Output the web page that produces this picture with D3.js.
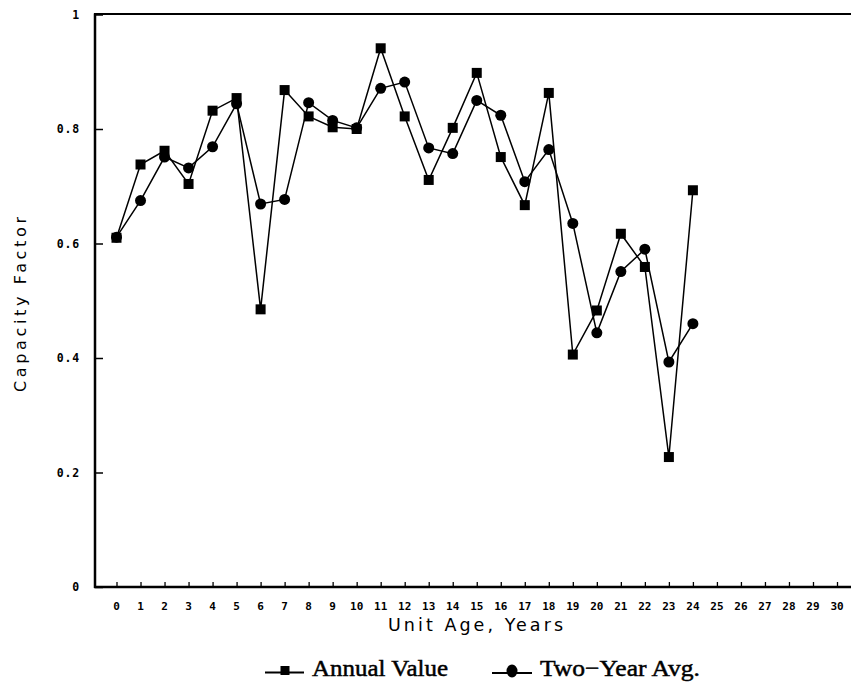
<!DOCTYPE html>
<html><head><meta charset="utf-8">
<script src="https://cdn.jsdelivr.net/npm/d3@7"></script>
<style>html,body{margin:0;padding:0;background:#fff;}svg{display:block;}</style>
</head><body>
<script>
const years = [0,1,2,3,4,5,6,7,8,9,10,11,12,13,14,15,16,17,18,19,20,21,22,23,24];
const annualValue = [0.61,0.738,0.762,0.704,0.832,0.854,0.485,0.868,0.822,0.803,0.80,0.941,0.822,0.711,0.802,0.898,0.751,0.667,0.863,0.406,0.483,0.617,0.559,0.227,0.693];
const twoYearAvg = [0.611,0.675,0.751,0.732,0.769,0.844,0.669,0.677,0.846,0.815,0.802,0.871,0.882,0.767,0.757,0.850,0.824,0.708,0.764,0.635,0.444,0.551,0.590,0.393,0.460];
const xTicks = d3.range(0,31);
const yTicks = [0,0.2,0.4,0.6,0.8,1];
const yTickLabels = ["0","0.2","0.4","0.6","0.8","1"];

const W = 851, H = 687;
const svg = d3.select("body").append("svg").attr("width",W).attr("height",H);
const x = d3.scaleLinear().domain([0,30]).range([116.5,837]);
const y = d3.scaleLinear().domain([0,1]).range([587,14.5]);

// frame
const frame = svg.append("g").attr("stroke","#000").attr("fill","none");
frame.append("line").attr("x1",95).attr("x2",95).attr("y1",13.5).attr("y2",588).attr("stroke-width",2.5);
frame.append("line").attr("x1",94).attr("x2",W).attr("y1",587).attr("y2",587).attr("stroke-width",2.5);
frame.append("line").attr("x1",94).attr("x2",W).attr("y1",14).attr("y2",14).attr("stroke-width",2);

// y axis ticks (inward)
const yAxis = d3.axisRight(y).tickValues(yTicks).tickSize(8).tickFormat("");
const gy = svg.append("g").attr("transform","translate(95,0)").call(yAxis);
gy.select(".domain").remove();
gy.selectAll(".tick line").attr("stroke","#000").attr("stroke-width",1.5);
svg.append("g").selectAll("text").data(yTicks).join("text")
  .attr("x",80).attr("y",d=>y(d)).attr("dy","0.35em").attr("text-anchor","end")
  .attr("font-family","DejaVu Sans Mono").attr("font-size",11.5).attr("font-weight","bold")
  .attr("fill","#000").attr("letter-spacing",0.8)
  .text((d,i)=>yTickLabels[i]);

// x axis ticks (upward)
const xAxis = d3.axisTop(x).tickValues(xTicks).tickSize(5).tickFormat("");
const gx = svg.append("g").attr("transform","translate(0,587)").call(xAxis);
gx.select(".domain").remove();
gx.selectAll(".tick line").attr("stroke","#000").attr("stroke-width",1.3);
svg.append("g").selectAll("text").data(xTicks).join("text")
  .attr("x",d=>x(d)).attr("y",609.5).attr("text-anchor","middle")
  .attr("font-family","DejaVu Sans Mono").attr("font-size",11).attr("font-weight","bold")
  .attr("fill","#000")
  .text(d=>d);

// axis titles
svg.append("text").attr("x",388).attr("y",631)
  .attr("font-family","DejaVu Sans").attr("font-size",17.5).attr("fill","#000")
  .attr("textLength",175).attr("lengthAdjust","spacing")
  .text("Unit Age, Years");
svg.append("text").attr("transform","translate(26,392) rotate(-90)")
  .attr("font-family","DejaVu Sans").attr("font-size",16).attr("fill","#000")
  .attr("textLength",175).attr("lengthAdjust","spacing")
  .text("Capacity Factor");

// lines
const line = d3.line().x((d,i)=>x(years[i])).y(d=>y(d));
svg.append("path").datum(annualValue).attr("d",line).attr("fill","none").attr("stroke","#000").attr("stroke-width",1.5);
svg.append("path").datum(twoYearAvg).attr("d",line).attr("fill","none").attr("stroke","#000").attr("stroke-width",1.5);

// markers
const sq = 10;
svg.append("g").selectAll("rect").data(annualValue).join("rect")
  .attr("x",(d,i)=>x(years[i])-sq/2).attr("y",d=>y(d)-sq/2)
  .attr("width",sq).attr("height",sq).attr("fill","#000");
svg.append("g").selectAll("circle").data(twoYearAvg).join("circle")
  .attr("cx",(d,i)=>x(years[i])).attr("cy",d=>y(d)).attr("r",5.5).attr("fill","#000");

// legend
const lg = svg.append("g");
lg.append("line").attr("x1",265).attr("x2",304).attr("y1",672.5).attr("y2",672.5).attr("stroke","#000").attr("stroke-width",1.8);
lg.append("rect").attr("x",280.5).attr("y",666).attr("width",9).attr("height",9).attr("fill","#000");
lg.append("text").attr("x",312).attr("y",676)
  .attr("font-family","Liberation Serif").attr("font-size",24).attr("fill","#000")
  .attr("stroke","#000").attr("stroke-width",0.5)
  .attr("textLength",136).attr("lengthAdjust","spacingAndGlyphs")
  .text("Annual Value");
lg.append("line").attr("x1",492).attr("x2",532).attr("y1",673).attr("y2",673).attr("stroke","#000").attr("stroke-width",1.8);
lg.append("ellipse").attr("cx",512).attr("cy",671).attr("rx",5.5).attr("ry",6.5).attr("fill","#000");
lg.append("text").attr("x",540).attr("y",676)
  .attr("font-family","Liberation Serif").attr("font-size",24).attr("fill","#000")
  .attr("stroke","#000").attr("stroke-width",0.5)
  .attr("textLength",160).attr("lengthAdjust","spacingAndGlyphs")
  .text("Two\u2212Year Avg.");
</script>
</body></html>
